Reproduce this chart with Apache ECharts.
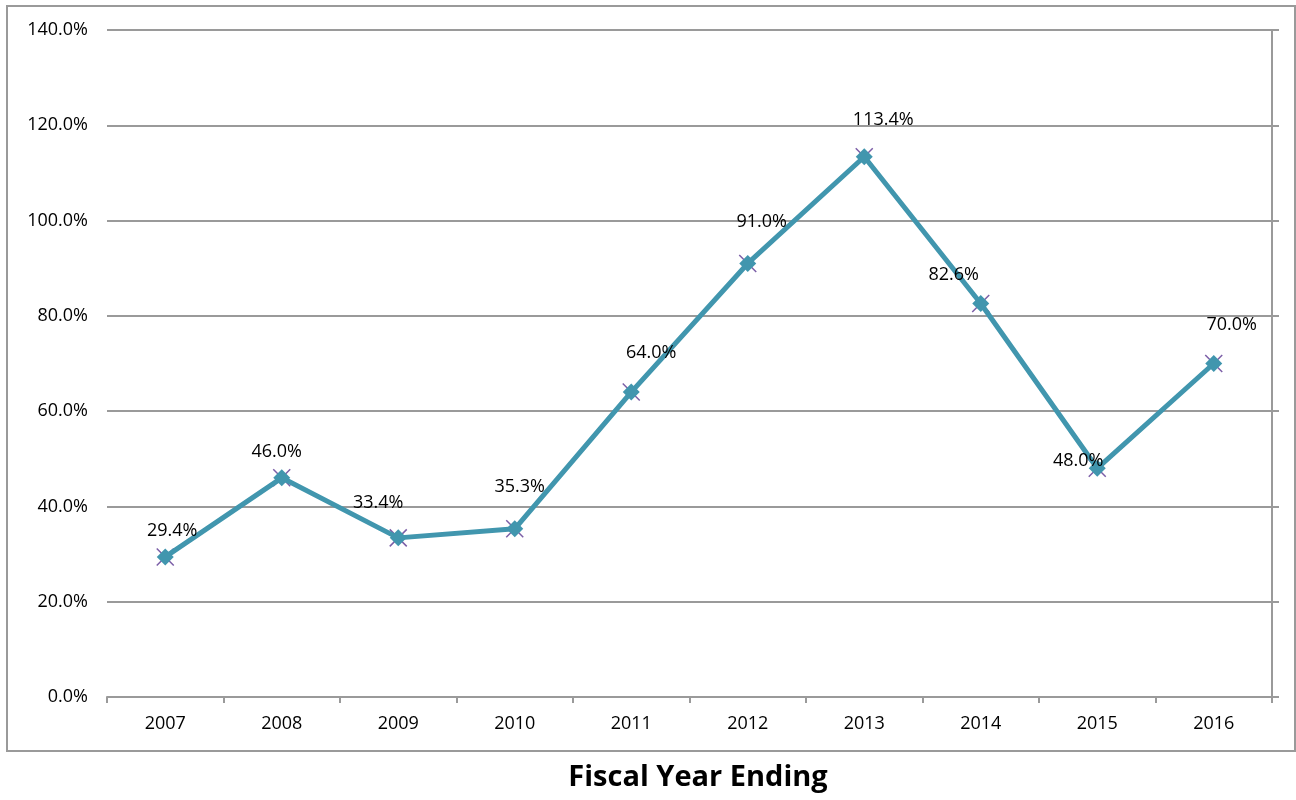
<!DOCTYPE html>
<html>
<head>
<meta charset="utf-8">
<script src="https://cdn.jsdelivr.net/npm/echarts@6/dist/echarts.min.js"></script>
<style>
  html, body { margin: 0; padding: 0; background: #fff; }
  #chart { width: 1296px; height: 800px; }
</style>
</head>
<body>
<div id="chart"></div>
<script>
// Fiscal years on the category axis
const years = ['2007', '2008', '2009', '2010', '2011', '2012', '2013', '2014', '2015', '2016'];
// Percentage for each fiscal year
const values = [29.4, 46.0, 33.4, 35.3, 64.0, 91.0, 113.4, 82.6, 48.0, 70.0];
// Value-axis range and step (percent)
const yMin = 0, yMax = 140, yStep = 20;
// Where each data label sits relative to its point (dx, dy in px)
const labelOffsets = [[7, -26], [-5, -26], [-20, -35], [5, -42], [20, -39], [14, -42], [19, -37], [-27, -29], [-19, -7], [18, -39]];

const FONT = 'Open Sans';
const gray = '#9a9a9a';

const chart = echarts.init(document.getElementById('chart'));

const labeledData = values.map((v, i) => ({
  value: v,
  label: { offset: labelOffsets[i] }
}));

chart.setOption({
  animation: false,
  backgroundColor: '#ffffff',
  graphic: [{
    type: 'rect',
    shape: { x: 7, y: 6, width: 1288, height: 745 },
    style: { fill: 'none', stroke: gray, lineWidth: 2 },
    silent: true,
    z: 0
  }],
  grid: { left: 107, right: 24, top: 30, bottom: 103 },
  xAxis: {
    type: 'category',
    data: years,
    boundaryGap: true,
    name: 'Fiscal Year Ending',
    nameLocation: 'middle',
    nameGap: 66,
    nameTextStyle: {
      fontFamily: FONT, fontWeight: 'bold', fontSize: 29, color: '#000',
      padding: [0, 0, 0, 17]
    },
    axisLine: { lineStyle: { color: gray, width: 2 } },
    axisTick: { show: true, alignWithLabel: false, length: 6, lineStyle: { color: gray, width: 2 } },
    axisLabel: { fontFamily: FONT, fontSize: 18, color: '#000', margin: 18 },
    splitLine: { show: false }
  },
  yAxis: [{
    type: 'value',
    min: yMin, max: yMax, interval: yStep,
    axisLine: { show: false },
    axisTick: { show: false },
    axisLabel: {
      fontFamily: FONT, fontSize: 18, color: '#000', margin: 19,
      formatter: v => v.toFixed(1) + '%'
    },
    splitLine: { show: true, lineStyle: { color: gray, width: 2 } }
  }, {
    type: 'value',
    position: 'right',
    min: yMin, max: yMax, interval: yStep,
    axisLine: { show: true, lineStyle: { color: gray, width: 2 } },
    axisTick: { show: true, inside: false, length: 7, lineStyle: { color: gray, width: 2 } },
    axisLabel: { show: false },
    splitLine: { show: false }
  }],
  series: [{
    // underlying series with cross markers
    type: 'line',
    data: values,
    symbol: 'path://M0,0 L10,10 M10,0 L0,10',
    symbolSize: 17,
    itemStyle: { color: 'none', borderColor: '#7b5ea7', borderWidth: 1.5 },
    lineStyle: { color: '#7b5ea7', width: 3 },
    z: 2
  }, {
    type: 'line',
    data: labeledData,
    symbol: 'diamond',
    symbolSize: 17,
    itemStyle: { color: '#4196ae' },
    lineStyle: { color: '#4196ae', width: 5 },
    label: {
      show: true,
      position: 'inside',
      fontFamily: FONT, fontSize: 18, color: '#000',
      formatter: p => p.value.toFixed(1) + '%'
    },
    z: 3
  }]
});
</script>
</body>
</html>
